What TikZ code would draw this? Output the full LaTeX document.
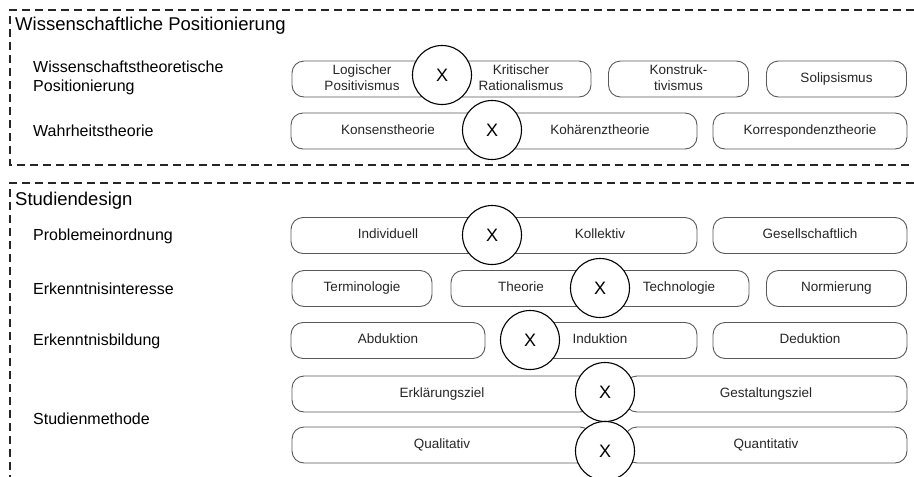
\documentclass[tikz,border=0pt]{standalone}
\usepackage{fontspec}
\setmainfont{Liberation Sans}
\newcommand{\boxstrut}{\rule[-3.5pt]{0pt}{12.5pt}}

\begin{document}
\begin{tikzpicture}[x=1pt,y=-1pt]
            \tikzstyle{frame}=[line width=1.2pt,dash pattern=on 8pt off 5pt,black!85]
            \tikzstyle{heading}=[anchor=west,inner sep=0pt,font=\fontsize{18.5}{22}\selectfont]
            \tikzstyle{criterion}=[anchor=west,inner sep=0pt,align=left,font=\fontsize{16}{19.5}\selectfont]
            \tikzstyle{option}=[draw=black!65,line width=0.9pt,rounded corners=12pt,minimum height=36pt,inner sep=0pt,align=center,text=black!85,font=\fontsize{13.5}{16}\selectfont,execute at begin node=\boxstrut]
            \tikzstyle{quarter}=[option,minimum width=140pt]
            \tikzstyle{twoline}=[quarter,execute at begin node={}]
            \tikzstyle{third}=[option,minimum width=194pt]
            \tikzstyle{choice}=[draw,circle,fill=white,line width=1.1pt,inner sep=0pt,minimum size=59pt,font=\fontsize{18}{20}\selectfont]

            \useasboundingbox (0,0) rectangle (914,477);

            % frames
            \draw[frame] (914,10) -- (10,10) -- (10,165) -- (914,165);
            \draw[frame] (914,183) -- (10,183) -- (10,477);

            \node (WP) at (15,26) [heading] {Wissenschaftliche Positionierung};
            \node (SD) at (15,201) [heading] {Studiendesign};

            \node (WT) at (33,78) [criterion] {Wissenschaftstheoretische\\Positionierung};
            \node (WH) at (33,131) [criterion] {Wahrheitstheorie};
            \node (PE) at (33,236) [criterion] {Problemeinordnung};
            \node (EI) at (33,289) [criterion] {Erkenntnisinteresse};
            \node (EB) at (33,341) [criterion] {Erkenntnisbildung};
            \node (SM) at (33,419) [criterion] {Studienmethode};

            % Wissenschaftliche Positionierung
            \node (LP) at (362,79) [twoline] {Logischer\\Positivismus};
            \node (KR) at (521,79) [twoline] {Kritischer\\Rationalismus};
            \node (KO) at (678.5,79) [twoline] {Konstruk-\\tivismus};
            \node (SO) at (836.5,79) [quarter] {Solipsismus};

            \node (KS) at (388,131) [third] {Konsenstheorie};
            \node (KH) at (600,131) [third] {Kohärenztheorie};
            \node (KP) at (810,131) [third] {Korrespondenztheorie};

            % Studiendesign
            \node (IN) at (388,235.5) [third] {Individuell};
            \node (KL) at (600,235.5) [third] {Kollektiv};
            \node (GE) at (810,235.5) [third] {Gesellschaftlich};

            \node (TE) at (362,288.5) [quarter] {Terminologie};
            \node (TH) at (521,288.5) [quarter] {Theorie};
            \node (TC) at (679,288.5) [quarter] {Technologie};
            \node (NO) at (836.5,288.5) [quarter] {Normierung};

            \node (AB) at (388,340.5) [third] {Abduktion};
            \node (ID) at (600,340.5) [third] {Induktion};
            \node (DE) at (810,340.5) [third] {Deduktion};

            \node (EZ) at (442,394) [option,minimum width=300pt] {Erklärungsziel};
            \node (GZ) at (766,394) [option,minimum width=282pt] {Gestaltungsziel};
            \node (QL) at (442,445) [option,minimum width=300pt] {Qualitativ};
            \node (QN) at (766,445) [option,minimum width=282pt] {Quantitativ};

            % chosen positions
            \node (X1) at (442,75) [choice] {X};
            \node (X2) at (492,130) [choice] {X};
            \node (X3) at (492,235) [choice] {X};
            \node (X4) at (600,288) [choice] {X};
            \node (X5) at (530,340) [choice] {X};
            \node (X6) at (605,392) [choice] {X};
            \node (X7) at (605,451) [choice] {X};
          \end{tikzpicture}
\end{document}
